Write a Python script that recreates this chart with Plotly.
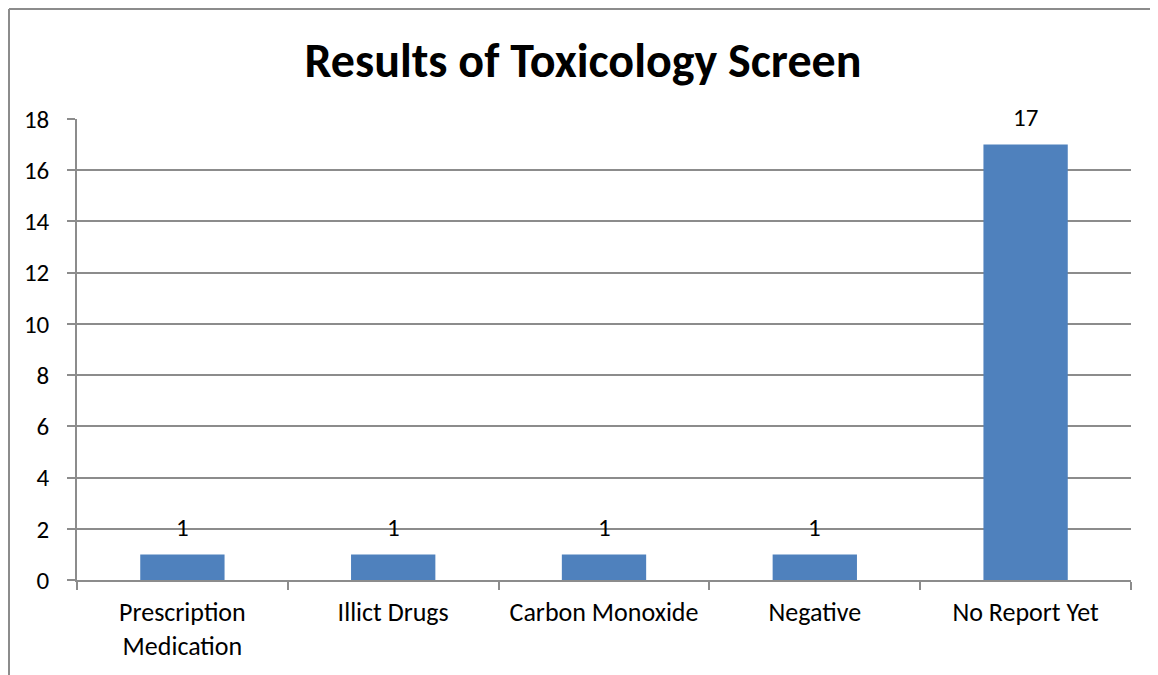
import plotly.graph_objects as go

categories = ["Prescription<br>Medication", "Illict Drugs", "Carbon Monoxide", "Negative", "No Report Yet"]
values = [1, 1, 1, 1, 17]
y_ticks = [0, 2, 4, 6, 8, 10, 12, 14, 16, 18]

FONT = "Carlito, Calibri, Lato, sans-serif"
GRID = "#8c8c8c"
BAR = "#4f81bd"

W, H = 1150, 667
L, R, T, B = 69, 27, 111, 95
PW = W - L - R
PH = H - T - B

fig = go.Figure()
fig.add_trace(go.Bar(x=categories, y=values, marker=dict(color=BAR, line=dict(width=0)),
                     width=0.4, hoverinfo="skip"))

for c, v in zip(categories, values):
    fig.add_annotation(x=c, y=v, text=str(v), showarrow=False, yshift=27,
                       font=dict(family=FONT, size=25, color="#000000"))

fig.update_layout(
    width=W, height=H,
    margin=dict(l=L, r=R, t=T, b=B),
    paper_bgcolor="white", plot_bgcolor="white",
    showlegend=False,
    title=dict(text="<b>Results of Toxicology Screen</b>", x=(583 - 8) / W, xanchor="center",
               y=1 - 52 / H, yanchor="middle",
               font=dict(family=FONT, size=48, color="#000000")),
    font=dict(family=FONT, size=26, color="#000000"),
    bargap=0.6,
)
fig.update_yaxes(range=[0, 18], tickvals=y_ticks, showgrid=True, gridcolor=GRID, gridwidth=1.5,
                 showline=True, linecolor=GRID, linewidth=1.5, ticks="outside", ticklen=8,
                 tickcolor=GRID, tickwidth=1.5, zeroline=False, ticklabelstandoff=13,
                 tickfont=dict(family=FONT, size=25))
fig.update_xaxes(showline=True, linecolor=GRID, linewidth=1.5, ticks="outside", ticklen=8,
                 tickcolor=GRID, tickwidth=1.5, tickson="boundaries", showgrid=False,
                 ticklabelstandoff=8,
                 tickfont=dict(family=FONT, size=26))

# chart border (only left and top visible in the cropped reference)
xl = -(L - 1) / PW
yt = 1 + (T - 1) / PH
fig.add_shape(type="line", xref="paper", yref="paper", x0=xl, x1=xl, y0=-(B + 20) / PH, y1=yt,
              line=dict(color="#8c8c8c", width=2))
fig.add_shape(type="line", xref="paper", yref="paper", x0=xl, x1=1 + R / PW, y0=yt, y1=yt,
              line=dict(color="#8c8c8c", width=2))

fig.write_html("out.html")
